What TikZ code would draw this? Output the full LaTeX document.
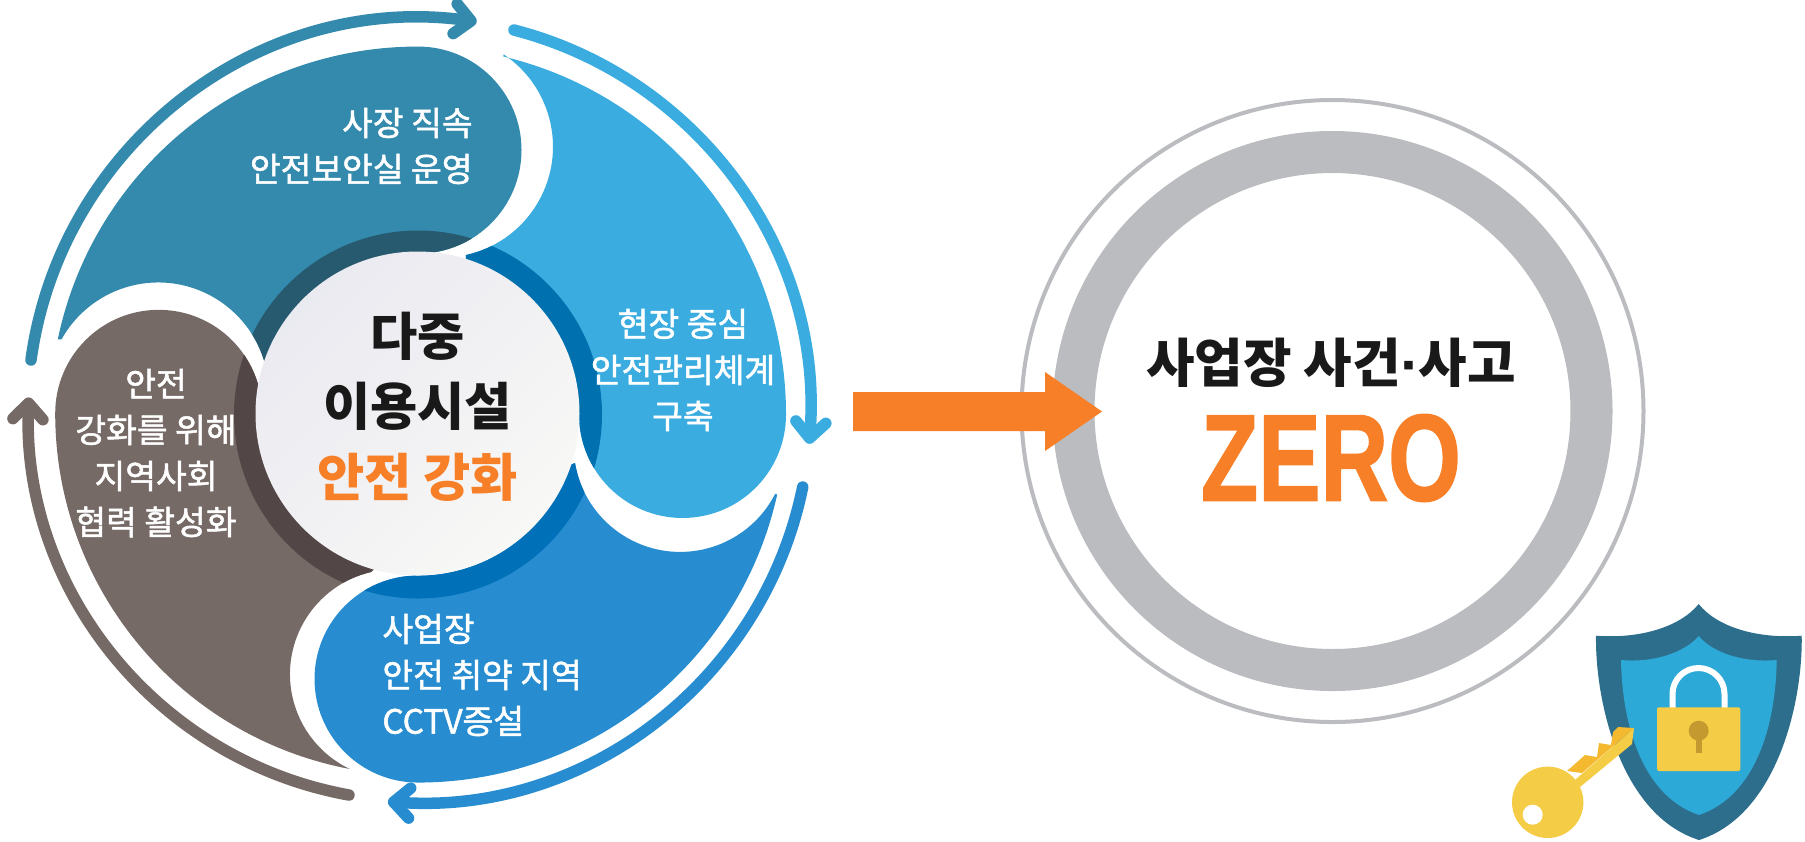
\documentclass[tikz,border=0pt]{standalone}
\usepackage{fontspec}
\setmainfont{Noto Sans CJK KR}
\newfontfamily\labelfont[FakeBold=1.5]{Noto Sans CJK KR}
\newfontfamily\zerofont[BoldFeatures={FakeBold=1.5}]{Liberation Sans}
\usetikzlibrary{arrows.meta}
\definecolor{tealblade}{HTML}{348AAD}
\definecolor{skyblade}{HTML}{3BACE0}
\definecolor{blueblade}{HTML}{278DD0}
\definecolor{brownblade}{HTML}{766A66}
\definecolor{tealdark}{HTML}{27596F}
\definecolor{skydark}{HTML}{0071AE}
\definecolor{bluedark}{HTML}{0070B8}
\definecolor{browndark}{HTML}{534646}
\definecolor{hubtop}{HTML}{EAEAF1}
\definecolor{hubbottom}{HTML}{F8F8F6}
\definecolor{ringgray}{HTML}{BBBCC0}
\definecolor{zeroorange}{HTML}{F77F27}
\definecolor{shielddark}{HTML}{2D6E8C}
\definecolor{shieldlight}{HTML}{2DA9D8}
\definecolor{keygold}{HTML}{F4CC45}
\definecolor{keytooth}{HTML}{F4B92F}
\definecolor{holegold}{HTML}{C49A30}
\tikzset{
	blade/.style 2 args={fill=#1, path picture={\fill[#2] (c) circle[radius=184];}},
	cyclearrow/.style={line width=0.115cm, line cap=round, -{Straight Barb[length=0.16cm,width=0.3cm,round]}},
	smalltext/.style={text=white, font=\labelfont\fontsize{9.5}{13.1}\selectfont},
	bigtext/.style={text=black!90, font=\bfseries\fontsize{14.6}{20}\selectfont}
}
\begin{document}
\begin{tikzpicture}[x=0.01cm,y=-0.01cm]
	\useasboundingbox (0,0) rectangle (1805,841);
	\coordinate (c) at (418,414.5);
	% four blades
	\fill[blade={tealblade}{tealdark}] (57.8,339.3) arc[start angle=191.8,end angle=270,radius=368] arc[start angle=270,end angle=450,radius=103.5] arc[start angle=270,end angle=197.5,radius=160] arc[start angle=-14.5,end angle=-151,radius=110.7] -- cycle;
	\fill[blade={skyblade}{skydark}] (503.3,56.5) arc[start angle=283.4,end angle=360,radius=368] arc[start angle=0,end angle=180,radius=103.5] arc[start angle=0,end angle=-73,radius=160] -- (466,255) arc[start angle=77.5,end angle=-56.3,radius=111] -- cycle;
	\fill[blade={blueblade}{bluedark}] (777.2,494.5) arc[start angle=12.55,end angle=90,radius=368] arc[start angle=90,end angle=270,radius=103.5] arc[start angle=90,end angle=18,radius=160] -- (575,463) arc[start angle=170.4,end angle=27.1,radius=106.7] -- cycle;
	\fill[blade={brownblade}{browndark}] (350,769) arc[start angle=100.7,end angle=180,radius=362] arc[start angle=180,end angle=360,radius=103.5] arc[start angle=180,end angle=106.6,radius=160] -- (371,572) arc[start angle=256.8,end angle=115.3,radius=105] -- cycle;
	\shade[left color=hubtop, right color=hubbottom, shading angle=45] (417.5,413.5) circle[radius=162];
	% arrows round the blades
	\draw[cyclearrow, tealblade] (31,360) arc[start angle=187.8,end angle=277.8,radius=395.7];
	\draw[cyclearrow, skyblade] (514,30) arc[start angle=284.5,end angle=364.5,radius=395.4];
	\draw[cyclearrow, blueblade] (802.7,487) arc[start angle=11.55,end angle=94.1,radius=394.6];
	\draw[cyclearrow, brownblade] (349,795) arc[start angle=100.2,end angle=182.1,radius=389.5];
	\node (teallabel) [smalltext, align=right, anchor=east] at (485,146) {사장 직속\\안전보안실 운영};
	\node (skylabel) [smalltext, align=center] at (683,370) {현장 중심\\안전관리체계\\구축};
	\node (bluelabel) [smalltext, align=left, anchor=west] at (370,675) {사업장\\안전 취약 지역\\CCTV증설};
	\node (brownlabel) [smalltext, align=center] at (156,453) {안전\\강화를 위해\\지역사회\\협력 활성화};
	\node (hub) [bigtext, align=center] at (417.5,406.5) {다중\\이용시설\\\textcolor{zeroorange}{안전 강화}};
	% rings on the right
	\draw[ringgray, line width=0.04cm] (1332.5,411) circle[radius=311];
	\draw[ringgray, line width=0.42cm] (1332.5,411) circle[radius=259];
	\fill[zeroorange] (853,392) -- (1045,392) -- (1045,372) -- (1102,411.5) -- (1045,451) -- (1045,431) -- (853,431) -- cycle;
	\node (title) [font=\bfseries\fontsize{15}{18}\selectfont, text=black!90] at (1331,363) {사업장 사건{\zerofont·}사고};
	\node (zero) [font=\zerofont\bfseries\fontsize{35}{38}\selectfont, text=zeroorange, transform shape, xscale=0.76] at (1331,458) {ZERO};
	% shield
	\fill[shielddark] (1698.7,604) .. controls (1680,627) and (1640,639) .. (1596,635.7) .. controls (1595,700) and (1620,815) .. (1699,840) .. controls (1778,815) and (1803,700) .. (1801.7,635.7) .. controls (1757,639) and (1717,627) .. (1698.7,604) -- cycle;
	\fill[shieldlight] (1698.7,636) .. controls (1685,652) and (1655,663) .. (1621,660) .. controls (1622,720) and (1640,795) .. (1699,815) .. controls (1758,795) and (1776,720) .. (1776.7,660) .. controls (1742,663) and (1712,652) .. (1698.7,636) -- cycle;
	\draw[white, line width=0.06cm] (1672.5,708) -- (1672.5,694) arc[start angle=180,end angle=360,radius=26] -- (1724.5,708);
	\fill[keygold, rounded corners=0.02cm] (1657,707.3) rectangle (1740.3,771);
	\fill[holegold] (1698.7,730.7) circle[radius=10];
	\fill[holegold] (1695.7,735) rectangle (1702,753);
	% key
	\fill[keytooth] (1567,771) -- (1585,755) -- (1597,757) -- (1599,743) -- (1611,745) -- (1613,732) -- (1618,727) -- (1634,728) -- (1582,773) -- cycle;
	\fill[keygold] (1575,780) -- (1634,728) -- (1632,744) -- (1580,787) -- cycle;
	\fill[keygold] (1547.7,802.3) circle[radius=35.7];
	\fill[white] (1532.7,814.7) circle[radius=10];
\end{tikzpicture}
\end{document}
